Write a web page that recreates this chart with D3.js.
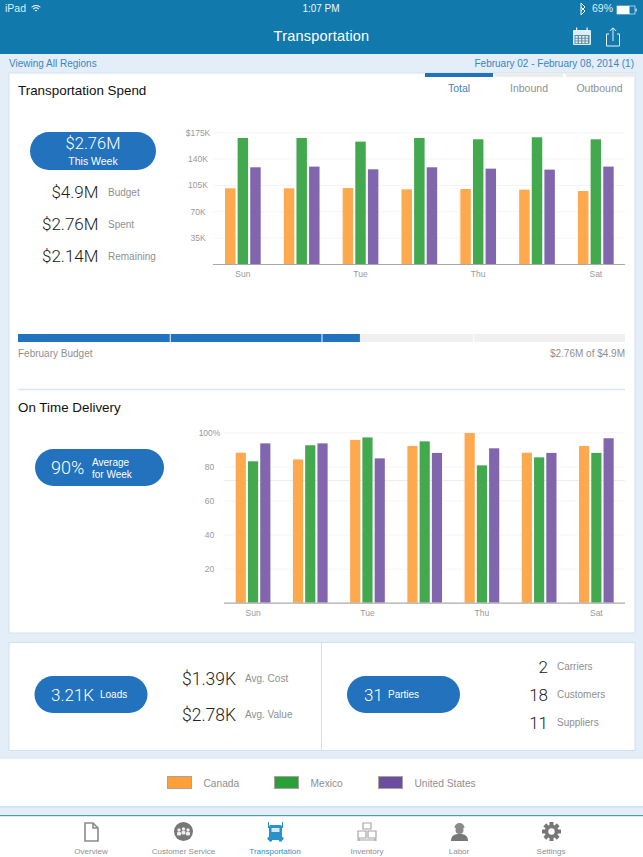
<!DOCTYPE html>
<html><head><meta charset="utf-8">
<script src="https://cdn.jsdelivr.net/npm/d3@7"></script>
<style>
html,body{margin:0;padding:0;background:#fff;overflow:hidden}
svg{display:block}
text{font-family:"Liberation Sans",Arial,sans-serif}
.big{font-family:Roboto,"Liberation Sans",sans-serif;font-weight:300}
.axis text{fill:#999;font-size:8.5px;text-anchor:middle}
</style></head><body>
<svg id="c" width="643" height="857"></svg>
<script>
const days = ["Sun","Mon","Tue","Wed","Thu","Fri","Sat"];
const shownDays = ["Sun","Tue","Thu","Sat"];
const seriesNames = ["Canada","Mexico","United States"];
const seriesColors = ["#ffa94f","#43a94f","#8266ad"];
const legendColors = ["#ff9f38","#2aa03a","#6b4ea0"];
const spendCanada = [100.6,100.6,101,99.2,99.7,98.8,97];
const spendMexico = [167.5,167.5,162.6,167.5,165.7,168.4,165.7];
const spendUS = [128.5,129.4,125.8,128.5,126.7,125.4,129.4];
const spendTicks = [35,70,105,140,175];
const deliveryCanada = [88,84.1,95.5,92,99.6,88,92];
const deliveryMexico = [83,92.4,97,94.7,80.6,85.3,87.9];
const deliveryUS = [93.5,93.5,84.7,87.9,90.6,87.9,96.5];
const deliveryTicks = [20,40,60,80,100];
const deliveryExtraLine = 72;
const budgetTotal = 4.9, budgetSpent = 2.76, budgetWeeks = 4;
const navItems = ["Overview","Customer Service","Transportation","Inventory","Labor","Settings"];

const BLUE="#2272bd", GREY="#8f8f8f", PAGE="#e3eef8", EDGE="#d0e1f2", HEAD="#1279ac";
const svg=d3.select("#c");
const rect=(x,y,w,h,f,rx)=>svg.append("rect").attr("x",x).attr("y",y).attr("width",w).attr("height",h).attr("fill",f).attr("rx",rx||0);
const txt=(s,x,y,size,fill,anchor,cls,g)=>{const t=(g||svg).append("text").attr("x",x).attr("y",y).attr("font-size",size).attr("fill",fill).attr("text-anchor",anchor||"start").text(s);if(cls)t.attr("class",cls);return t;};

// page
rect(0,0,643,857,PAGE);
rect(0,0,643,54,HEAD);
txt("iPad",5,12,10.5,"#dbeef7");
txt("1:07 PM",321,12,10,"#eef7fb","middle");
txt("69%",592,12,10.5,"#dbeef7");
txt("Transportation",321.5,41,14.5,"#fff","middle").attr("letter-spacing",.2);
// wifi
[7,4.5,2].forEach(r=>svg.append("path").attr("d",d3.arc()({innerRadius:r-1,outerRadius:r,startAngle:-.75,endAngle:.75})).attr("transform","translate(36,12)").attr("fill","#fff"));
// bluetooth
svg.append("path").attr("d","M581 7L585 11L581 15V3L585 7L581 11").attr("fill","none").attr("stroke","#fff").attr("stroke-width",1);
// battery
svg.append("rect").attr("x",617).attr("y",6).attr("width",18).attr("height",8).attr("fill","none").attr("stroke","#dbeef7").attr("stroke-width",.7);
rect(617,6,12.5,8,"#fff"); rect(635.5,8.5,1.2,3,"#dbeef7");
// calendar
rect(573,30,18,15,"#dfeef6",1); rect(574.5,35,15,9,"#5f8ea8");
d3.range(3).forEach(i=>d3.range(4).forEach(j=>rect(575.5+j*3.4,36+i*2.7,2.2,1.8,"#e8f3f8")));
rect(576,27.5,1.2,4,"#fff"); rect(586.5,27.5,1.2,4,"#fff");
// share
svg.append("path").attr("d","M609 34H606.5V46H619.5V34H617M613 41V28M609.8 31L613 27.8L616.2 31").attr("fill","none").attr("stroke","#e8f3f8").attr("stroke-width",1);

txt("Viewing All Regions",9,67,10,"#3d85c0");
txt("February 02 - February 08, 2014 (1)",634,67,10,"#3d85c0","end");

// cards
const card=(x,y,w,h)=>svg.append("rect").attr("x",x+.5).attr("y",y+.5).attr("width",w).attr("height",h).attr("fill","#fff").attr("stroke",EDGE).attr("stroke-width",1);
card(8.5,72.5,626,560);
card(8.5,642,626,108);
svg.append("line").attr("x1",321.5).attr("x2",321.5).attr("y1",642).attr("y2",750).attr("stroke",EDGE);

// tabs
rect(425,73,68,4,"#2272bd"); rect(495,73,68,4,"#ececec"); rect(566,73,68,4,"#ececec");
txt("Total",459,91.5,10.5,"#3d85c0","middle");
txt("Inbound",529,91.5,10.5,GREY,"middle");
txt("Outbound",599.5,91.5,10.5,GREY,"middle");

txt("Transportation Spend",18,95,13.4,"#111");
txt("On Time Delivery",18,412,13.4,"#111");

// KPI block
rect(30,132,126,38,BLUE,19);
txt("$2.76M",93,149,16.5,"#fff","middle","big");
txt("This Week",93,164.5,10.5,"#fff","middle");
const kpiRows=[["$4.9M","Budget",198],["$2.76M","Spent",230],["$2.14M","Remaining",262]];
kpiRows.forEach(r=>{txt(r[0],98.5,r[2],17,"#222","end","big");txt(r[1],108,r[2]-2,10,GREY);});

// grouped bar chart
function chart(opts){
  const {left,right,top,bottom,first,last,groupW,max,ticks,vals,fmt,extra}=opts;
  const g=svg.append("g");
  const y=d3.scaleLinear().domain([0,max]).range([bottom,top]);
  const step=(last-first);
  const x=d3.scaleBand().domain(days).range([first,last+groupW]).paddingInner(1-groupW/(step/6)).paddingOuter(0);
  const inner=d3.scaleBand().domain(seriesNames).range([0,x.bandwidth()]).paddingInner(.17);
  // grid
  g.selectAll("line.grid").data(ticks.concat(extra?[extra]:[])).join("line")
    .attr("x1",left).attr("x2",right).attr("y1",d=>y(d)+.5).attr("y2",d=>y(d)+.5)
    .attr("stroke",d=>d===extra?"#ececec":"#f4f4f4");
  // bars
  seriesNames.forEach((s,i)=>{
    g.selectAll("rect.s"+i).data(vals[i]).join("rect")
      .attr("x",(d,k)=>x(days[k])+inner(s)).attr("width",inner.bandwidth())
      .attr("y",d=>y(d)).attr("height",d=>bottom-y(d)).attr("fill",seriesColors[i]);
  });
  // x axis
  const ax=g.append("g").attr("class","axis").attr("transform",`translate(0,${bottom})`)
    .call(d3.axisBottom(x).tickValues(shownDays).tickSize(0).tickPadding(7));
  ax.select(".domain").remove();
  g.append("line").attr("x1",left).attr("x2",right).attr("y1",bottom+.5).attr("y2",bottom+.5).attr("stroke","#aaa").attr("stroke-width",1.2);
  // y axis
  const ay=g.append("g").attr("class","axis").attr("transform",`translate(${left},0)`)
    .call(d3.axisLeft(y).tickValues(ticks).tickSize(0).tickPadding(opts.pad).tickFormat(fmt));
  ay.select(".domain").remove();
}
chart({left:213,right:625,top:132.3,bottom:264,first:225,last:578,groupW:35.7,max:175,ticks:spendTicks,
  vals:[spendCanada,spendMexico,spendUS],pad:15,fmt:d=>d===175?"$175K":d+"K"});
chart({left:224,right:625,top:432.3,bottom:602.7,first:235.7,last:579,groupW:34.7,max:100,ticks:deliveryTicks,
  vals:[deliveryCanada,deliveryMexico,deliveryUS],pad:14.5,extra:deliveryExtraLine,fmt:d=>d===100?"100%":d});

// budget bar
const bx=d3.scaleLinear().domain([0,budgetTotal]).range([18,625]);
const weeks=d3.range(budgetWeeks).map(i=>[i*budgetTotal/budgetWeeks,(i+1)*budgetTotal/budgetWeeks]);
svg.selectAll("rect.bg").data(weeks).join("rect").attr("x",d=>bx(d[0])+(d[0]?1:0)).attr("width",d=>bx(d[1])-bx(d[0])-(d[0]?1:0)).attr("y",334).attr("height",8).attr("fill","#f0f0f0");
svg.selectAll("rect.fg").data(weeks.filter(d=>d[0]<budgetSpent)).join("rect").attr("x",d=>bx(d[0])+(d[0]?1:0)).attr("width",d=>bx(Math.min(d[1],budgetSpent))-bx(d[0])-(d[0]?1:0)).attr("y",334).attr("height",8).attr("fill",BLUE);
txt("February Budget",18,357,10,GREY);
txt("$2.76M of $4.9M",625,357,10,GREY,"end");
svg.append("line").attr("x1",18).attr("x2",625).attr("y1",389.5).attr("y2",389.5).attr("stroke","#d9e6f3").attr("stroke-width",1.5);

// delivery pill
rect(35,449,129,37,BLUE,18.5);
txt("90%",51,474,18,"#fff","start","big");
txt("Average",92,465.5,10,"#fff");
txt("for Week",92,477.5,10,"#fff");

// loads
rect(34.5,676,113,37,BLUE,18.5);
txt("3.21K",51,701,17,"#fff","start","big");
txt("Loads",100,698,10,"#fff");
[["$1.39K","Avg. Cost",684.5],["$2.78K","Avg. Value",720.5]].forEach(r=>{txt(r[0],182,r[2],17.5,"#222","start","big");txt(r[1],245,r[2]-2.5,10,GREY);});
// parties
rect(347,676,113,37,BLUE,18.5);
txt("31",364,701,17,"#fff","start","big");
txt("Parties",388,698,10,"#fff");
[["2","Carriers",672.5],["18","Customers",700.5],["11","Suppliers",728.5]].forEach(r=>{txt(r[0],548,r[2],17,"#222","end","big");txt(r[1],557,r[2]-2.5,10,GREY);});

// legend
rect(0,759,643,47,"#fff");
const legendX=[167,274,378];
seriesNames.forEach((s,i)=>{
  svg.append("rect").attr("x",legendX[i]+.5).attr("y",776.5).attr("width",24).attr("height",12).attr("fill",legendColors[i]).attr("stroke","#a9a39a");
  txt(s,legendX[i]+36.5,787,10.2,GREY);
});
rect(0,806,643,2,"#d3e4f2");

// nav
rect(0,815,643,42,"#fff");
rect(0,815,643,1.2,"#4a9ac0");
const navX=[91,183.5,275,367,459,551];
navItems.forEach((n,i)=>{
  txt(n,navX[i],854,8,i===2?"#2b92c9":"#8f8f8f","middle");
});
// nav icons
svg.append("path").attr("d","M85 823H93L98 828V841H85ZM93 823V828H98").attr("fill","#fff").attr("stroke","#8a8a8a").attr("stroke-width",1.6);
svg.append("circle").attr("cx",183.5).attr("cy",831.5).attr("r",9.5).attr("fill","#777");
[[179,830],[183.5,829],[188,830]].forEach(p=>{svg.append("circle").attr("cx",p[0]).attr("cy",p[1]).attr("r",1.7).attr("fill","#eee");rect(p[0]-2,p[1]+2,4,3.5,"#eee",1);});
rect(269,825,13,14,"#2b92c9",1.5); rect(271.5,828,8,4,"#cfe9f6"); rect(267.5,837,16,3,"#2b92c9",1);
rect(268,822,1,6,"#2b92c9"); rect(282,822,1,6,"#2b92c9");
svg.append("circle").attr("cx",270.5).attr("cy",840).attr("r",1.8).attr("fill","#2b92c9");
svg.append("circle").attr("cx",280.5).attr("cy",840).attr("r",1.8).attr("fill","#2b92c9");
svg.append("path").attr("d","M363 823H371V829H363ZM358 831H366V838H358ZM368 831H376V838H368ZM357 840H377M359 838V841M375 838V841").attr("fill","none").attr("stroke","#a6a6a6").attr("stroke-width",1.2);
svg.append("circle").attr("cx",459.5).attr("cy",830).attr("r",4).attr("fill","#888");
svg.append("path").attr("d","M451 841C451 835 455 834 459.5 834C464 834 468 835 468 841Z").attr("fill","#777");
svg.append("path").attr("d",d3.arc()({innerRadius:0,outerRadius:5,startAngle:-Math.PI/2,endAngle:Math.PI/2})).attr("transform","translate(459.5,828)").attr("fill","#8a8a8a");
const gear=d3.range(8).map(i=>i*Math.PI/4);
gear.forEach(a=>rect(549.5,822,4,5,"#777").attr("transform",`rotate(${a*180/Math.PI},551.5,831.5)`));
svg.append("circle").attr("cx",551.5).attr("cy",831.5).attr("r",5).attr("fill","none").attr("stroke","#777").attr("stroke-width",3.6);
</script></body></html>
